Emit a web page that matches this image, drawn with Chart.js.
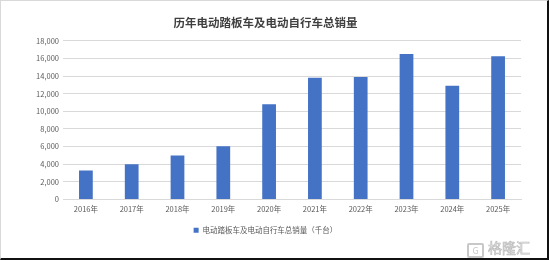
<!DOCTYPE html>
<html lang="zh">

<head>
    <meta charset="UTF-8">
    <title>历年电动踏板车及电动自行车总销量</title>
    <script src="https://cdn.jsdelivr.net/npm/chart.js"></script>
    <style>
        body {
            margin: 0;
            background: #fff;
        }

        .frame {
            position: relative;
            width: 549px;
            height: 260px;
            box-sizing: border-box;
            border-top: 1px solid #d9d9d9;
            border-left: 1px solid #d9d9d9;
            border-right: 2px solid #111;
            border-bottom: 2px solid #111;
            overflow: hidden;
        }

        canvas {
            position: absolute;
            left: -1px;
            top: -1px;
        }

        .mark {
            position: absolute;
            left: 466px;
            top: 237px;
            font-family: "Noto Sans CJK SC", sans-serif;
            font-size: 14px;
            color: #f2f2f2;
            -webkit-text-stroke: 0.7px #bdbdbd;
            line-height: 18px;
            white-space: nowrap;
        }

        .mark span {
            display: inline-block;
            width: 13px;
            height: 11px;
            border: 2px solid #c8c8c8;
            border-radius: 2px;
            font-size: 9px;
            line-height: 11px;
            text-align: center;
            vertical-align: -1px;
            margin-right: 4px;
            -webkit-text-stroke: 0;
            color: #c8c8c8;
        }
    </style>
</head>

<body>
    <div class="frame">
        <canvas id="myChart" width="549" height="260"></canvas>
        <div class="mark"><span>G</span>格隆汇</div>
    </div>
</body>

</html>
<script>
    // dados (mil unidades)
    const anos = ['2016年', '2017年', '2018年', '2019年', '2020年', '2021年', '2022年', '2023年', '2024年', '2025年'];
    const vendas = [3300, 4000, 5000, 6050, 10800, 13800, 13900, 16500, 12900, 16250];
    const nomeSerie = '电动踏板车及电动自行车总销量（千台）';

    const fonte = '"Noto Sans CJK SC", "Noto Sans", sans-serif';

    new Chart(document.getElementById('myChart'), {
        type: 'bar',
        data: {
            labels: anos,
            datasets: [{
                label: nomeSerie,
                data: vendas,
                backgroundColor: '#4472C4',
                categoryPercentage: 1,
                barPercentage: 0.3,
            }]
        },
        options: {
            responsive: false,
            animation: false,
            layout: {
                padding: { left: 10, right: 28, top: 0, bottom: 16 }
            },
            scales: {
                x: {
                    grid: { display: false, drawTicks: false },
                    border: { color: '#d9d9d9', width: 1 },
                    ticks: {
                        color: '#595959',
                        padding: 5,
                        font: { family: fonte, size: 7.5 },
                        maxRotation: 0,
                    }
                },
                y: {
                    min: 0,
                    max: 18000,
                    grid: { color: '#d9d9d9', drawTicks: false },
                    border: { display: false },
                    ticks: {
                        stepSize: 2000,
                        color: '#595959',
                        padding: 4,
                        font: { family: fonte, size: 7.5 },
                        callback: (v) => v.toLocaleString('en-US'),
                    },
                    afterFit: (scale) => { scale.width = 53; }
                }
            },
            plugins: {
                title: {
                    display: true,
                    text: '历年电动踏板车及电动自行车总销量',
                    color: '#404040',
                    font: { family: fonte, size: 11.5, weight: 'bold' },
                    padding: { top: 16, bottom: 11 }
                },
                legend: {
                    position: 'bottom',
                    labels: {
                        color: '#595959',
                        boxWidth: 5,
                        boxHeight: 5,
                        padding: 8,
                        font: { family: fonte, size: 7.5 }
                    }
                },
                tooltip: { enabled: false }
            }
        }
    });
</script>
